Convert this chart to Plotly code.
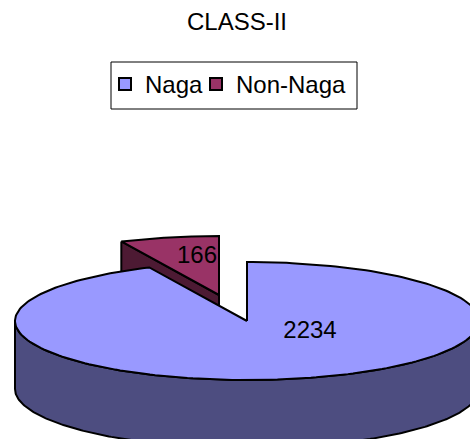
import numpy as np
import plotly.graph_objects as go

title = "CLASS-II"
categories = ["Naga", "Non-Naga"]
values = [2234, 166]

W, H = 470, 439
FONT = "Liberation Sans, Arial, sans-serif"
TOP_COLORS = ["#9999FF", "#993366"]
SIDE_COLORS = ["#4D4D80", "#4D1A33"]
RX, RY, DEPTH = 232, 59, 68
CENTERS = [(247, 321), (219, 295)]
LABEL_POS = [(310, 332), (197, 257)]

total = sum(values)
naga_sweep = 360 * values[0] / total


def rim(center, a0, a1, dz=0.0, n=240):
    t = np.radians(np.linspace(a0, a1, n))
    return center[0] + RX * np.sin(t), center[1] - RY * np.cos(t) + dz


def poly(x, y, fill):
    return go.Scatter(x=list(x), y=list(y), mode="lines", fill="toself", fillcolor=fill,
                      line=dict(color="black", width=2), hoverinfo="skip", showlegend=False)


fig = go.Figure()

# Non-Naga slice (pulled out): cut face, then top face
c = CENTERS[1]
ex, ey = rim(c, naga_sweep, naga_sweep, n=1)
fig.add_trace(poly([ex[0], c[0], c[0], ex[0], ex[0]],
                   [ey[0], c[1], c[1] + DEPTH, ey[0] + DEPTH, ey[0]], SIDE_COLORS[1]))
x, y = rim(c, naga_sweep, 360)
fig.add_trace(poly(np.r_[x, c[0], x[0]], np.r_[y, c[1], y[0]], TOP_COLORS[1]))

# Naga slice: outer wall (front half), then top face
c = CENTERS[0]
xt, yt = rim(c, 90, 270)
xb, yb = rim(c, 270, 90, dz=DEPTH)
fig.add_trace(poly(np.r_[xt, xb, xt[0]], np.r_[yt, yb, yt[0]], SIDE_COLORS[0]))
x, y = rim(c, 0, naga_sweep)
fig.add_trace(poly(np.r_[c[0], x, c[0]], np.r_[c[1], y, c[1]], TOP_COLORS[0]))

# Value labels
fig.add_trace(go.Scatter(x=[p[0] for p in LABEL_POS], y=[p[1] for p in LABEL_POS],
                         mode="text", text=[str(v) for v in values],
                         textposition="middle center",
                         textfont=dict(family=FONT, size=24, color="black"),
                         hoverinfo="skip", showlegend=False))

# Legend entries, one legend each so their spacing can follow the reference
for name, color, leg in zip(categories, TOP_COLORS, ["legend", "legend2"]):
    fig.add_trace(go.Scatter(x=[None], y=[None], mode="markers", name=name, legend=leg,
                             showlegend=True,
                             marker=dict(symbol="square", size=14, color=color,
                                         line=dict(color="black", width=2))))

leg_common = dict(orientation="h", y=1 - 62 / H, xanchor="left", yanchor="top",
                  borderwidth=0, bgcolor="rgba(0,0,0,0)",
                  font=dict(family=FONT, size=24, color="black"), itemsizing="constant")

fig.update_layout(
    width=W, height=H,
    margin=dict(l=0, r=0, t=0, b=0),
    paper_bgcolor="white", plot_bgcolor="white",
    title=dict(text=title, x=237 / W, y=1 - 22 / H, xanchor="center", yanchor="middle",
               font=dict(family=FONT, size=24, color="black")),
    xaxis=dict(range=[0, W], visible=False, fixedrange=True),
    yaxis=dict(range=[H, 0], visible=False, fixedrange=True),
    legend=dict(x=105 / W, **leg_common),
    legend2=dict(x=196 / W, **leg_common),
    shapes=[dict(type="rect", xref="x", yref="y", x0=111, x1=357, y0=62, y1=109,
                 line=dict(color="black", width=1), fillcolor="white", layer="below")],
)
fig.write_html("out.html", config={"displayModeBar": False},
               post_script="document.body.style.margin='0';document.documentElement.style.overflow='hidden';")
